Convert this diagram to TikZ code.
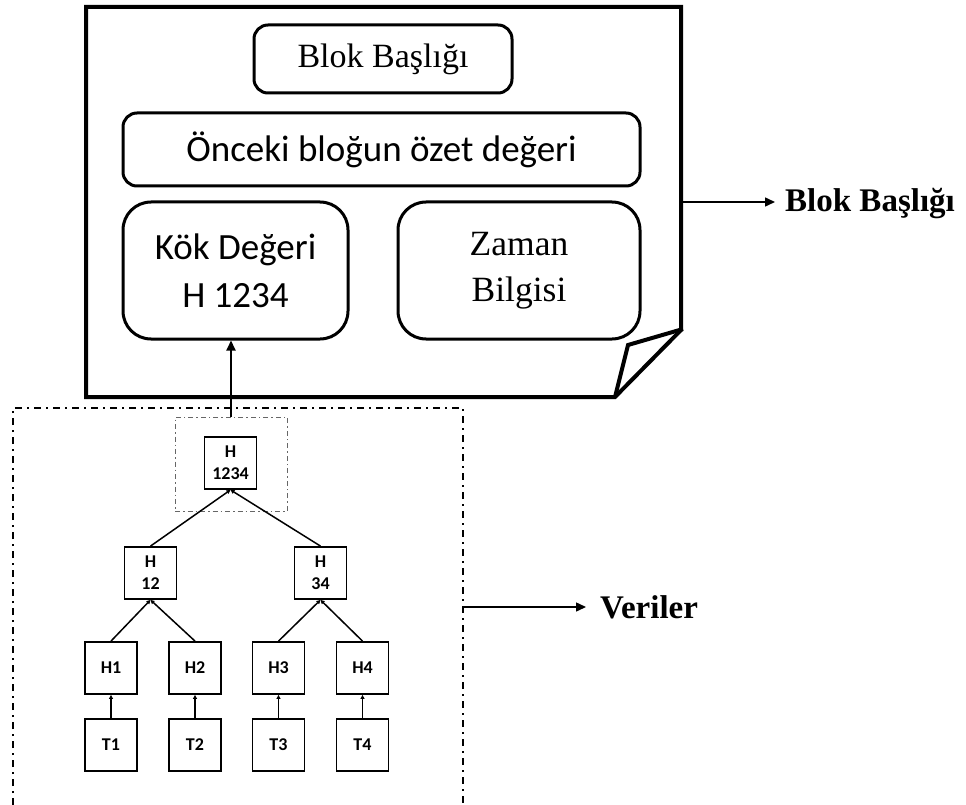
\documentclass[tikz,border=0pt]{standalone}
\usepackage{fontspec}
\setmainfont{Liberation Serif}
\newfontfamily\calfont{Carlito}
\usetikzlibrary{arrows.meta}
\begin{document}
\begin{tikzpicture}[x=1pt,y=-1pt,
  rbox/.style={draw, line width=3pt, inner sep=0pt, align=center},
  tbox/.style={draw, line width=1.8pt, minimum width=52pt, minimum height=52pt, inner sep=0pt, align=center,
     font=\calfont\bfseries\fontsize{18}{22}\selectfont},
  bigarrow/.style={line width=2pt, -{Triangle[length=10pt,width=9pt]}},
  smallarrow/.style={line width=1.5pt, -{Triangle[length=4pt,width=4pt]}},
  sidelabel/.style={anchor=west, inner sep=0pt, font=\bfseries\fontsize{33}{36}\selectfont}]
\useasboundingbox (0,0) rectangle (966,805);

% page with folded corner
\draw[line width=4pt, line join=miter]
  (86,7) -- (681,7) -- (681,330) -- (615,397) -- (86,397) -- cycle;
\draw[line width=4pt, line join=miter] (615,397) -- (628,345) -- (683,329);

% boxes inside the page
\node[rbox, rounded corners=14pt, minimum width=258pt, minimum height=68pt,
      font=\fontsize{34}{40}\selectfont] (blok) at (383,59) {Blok Başlığı};
\node[rbox, rounded corners=14pt, minimum width=517pt, minimum height=73pt,
      font=\calfont\fontsize{37}{40}\selectfont] (onceki) at (381.5,149.5) {Önceki bloğun özet değeri};
\node[rbox, rounded corners=28pt, minimum width=225pt, minimum height=137pt,
      font=\calfont\fontsize{37}{48}\selectfont] (kok) at (235.5,270.5) {Kök Değeri\\H 1234};
\node[rbox, rounded corners=28pt, minimum width=242pt, minimum height=137pt,
      font=\fontsize{35.5}{46}\selectfont] (zaman) at (519,270.5) {Zaman\\Bilgisi};

% side labels
\coordinate (pageright) at (681,202);
\node[sidelabel] (lblblok) at (785,204) {Blok Başlığı};
\coordinate (dataright) at (463,607);
\node[sidelabel] (lblveri) at (600,607) {Veriler};

% data area (dash-dot, open at the bottom)
\draw[line width=2pt, dash pattern=on 7pt off 5pt on 2pt off 5pt]
  (13,805) -- (13,408) -- (463,408) -- (463,805);

% tree
\node[draw=black!60, line width=0.9pt, dash pattern=on 5pt off 3pt on 1.5pt off 3pt,
      minimum width=112pt, minimum height=94pt, inner sep=0pt] (rootbox) at (231,464) {};
\node[tbox] (h1234) at (230.5,463) {H\\1234};
\node[tbox] (h12) at (150.5,573) {H\\12};
\node[tbox] (h34) at (320.5,573) {H\\34};
\node[tbox] (h1) at (111,668) {H1};
\node[tbox] (h2) at (195,668) {H2};
\node[tbox] (h3) at (278.5,668) {H3};
\node[tbox] (h4) at (362.5,668) {H4};
\node[tbox] (t1) at (111,745) {T1};
\node[tbox] (t2) at (195,745) {T2};
\node[tbox] (t3) at (278.5,745) {T3};
\node[tbox] (t4) at (362.5,745) {T4};

\draw[smallarrow] (h12.north) -- (h1234.south);
\draw[smallarrow] (h34.north) -- (h1234.south);
\draw[smallarrow] (h1.north) -- (h12.south);
\draw[smallarrow] (h2.north) -- (h12.south);
\draw[smallarrow] (h3.north) -- (h34.south);
\draw[smallarrow] (h4.north) -- (h34.south);
\draw[smallarrow] (t1) -- (h1);
\draw[smallarrow] (t2) -- (h2);
\draw[smallarrow] (t3) -- (h3);
\draw[smallarrow] (t4) -- (h4);

\draw[bigarrow] (rootbox.north) -- (rootbox.north |- kok.south);
\draw[bigarrow, line width=1.5pt] (pageright) -- ([xshift=-10pt]lblblok.west |- pageright);
\draw[bigarrow, line width=1.5pt] (dataright) -- ([xshift=-14pt]lblveri.west);
\end{tikzpicture}
\end{document}
